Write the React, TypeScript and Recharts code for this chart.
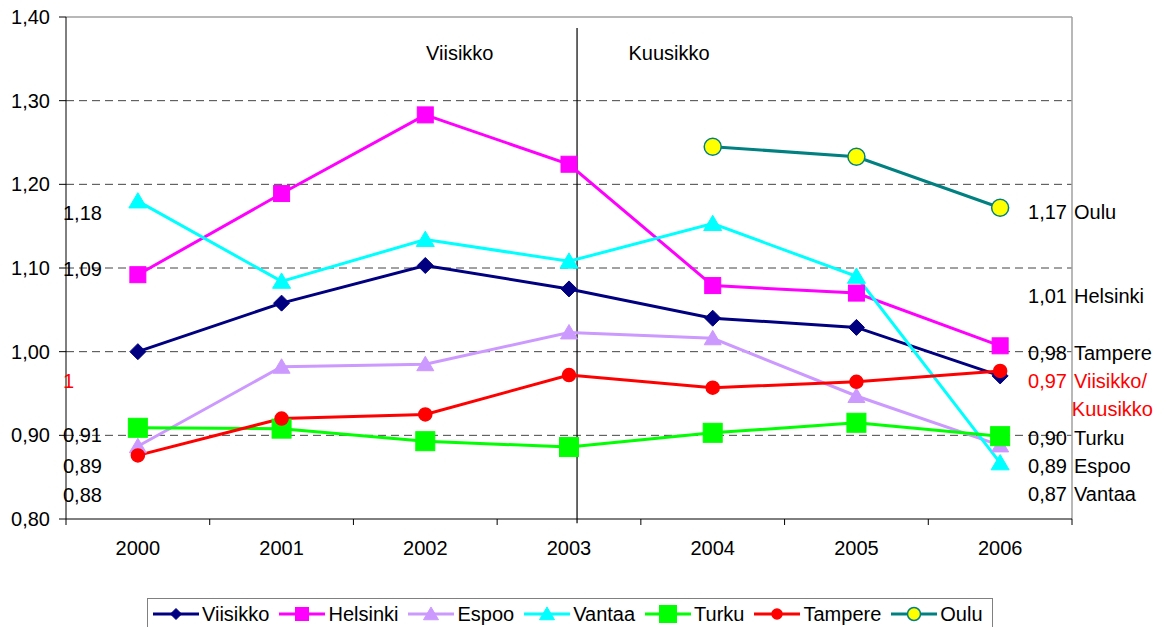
import React from 'react';
import {
  LineChart,
  Line,
  XAxis,
  YAxis,
  ReferenceLine,
  ReferenceDot,
  Legend,
} from 'recharts';

const FONT = "'Liberation Sans', Arial, Helvetica, sans-serif";

// ---------- data ----------
const years = ['2000', '2001', '2002', '2003', '2004', '2005', '2006'];
const viisikko = [1.0, 1.058, 1.103, 1.075, 1.04, 1.029, 0.971];
const helsinki = [1.092, 1.189, 1.283, 1.224, 1.079, 1.07, 1.007];
const espoo = [0.887, 0.982, 0.985, 1.023, 1.016, 0.947, 0.888];
const vantaa = [1.18, 1.084, 1.134, 1.108, 1.153, 1.09, 0.867];
const turku = [0.909, 0.908, 0.893, 0.886, 0.903, 0.915, 0.899];
const tampere = [0.876, 0.92, 0.925, 0.972, 0.957, 0.964, 0.977];
const oulu: (number | null)[] = [null, null, null, null, 1.245, 1.233, 1.172];

const yTicks = [0.8, 0.9, 1.0, 1.1, 1.2, 1.3, 1.4];
const gridValues = [0.9, 1.0, 1.1, 1.2, 1.3];

const leftLabels = [
  { text: '1,18', y: 1.166, color: '#000000' },
  { text: '1,09', y: 1.099, color: '#000000' },
  { text: '1', y: 0.965, color: '#FF0000' },
  { text: '0,91', y: 0.9, color: '#000000' },
  { text: '0,89', y: 0.863, color: '#000000' },
  { text: '0,88', y: 0.829, color: '#000000' },
];

const rightLabels = [
  { value: '1,17', name: 'Oulu', y: 1.167, color: '#000000' },
  { value: '1,01', name: 'Helsinki', y: 1.066, color: '#000000' },
  { value: '0,98', name: 'Tampere', y: 0.999, color: '#000000' },
  { value: '0,97', name: 'Viisikko/', y: 0.965, color: '#FF0000' },
  { value: '', name: 'Kuusikko', y: 0.931, color: '#FF0000' },
  { value: '0,90', name: 'Turku', y: 0.897, color: '#000000' },
  { value: '0,89', name: 'Espoo', y: 0.863, color: '#000000' },
  { value: '0,87', name: 'Vantaa', y: 0.83, color: '#000000' },
];

const periodLabels = [
  { text: 'Viisikko', x: 2.24, y: 1.357 },
  { text: 'Kuusikko', x: 3.696, y: 1.357 },
];
const dividerX = 3.056;
const dividerTop = 1.387;

const seriesValues: Record<string, (number | null)[]> = {
  Viisikko: viisikko,
  Helsinki: helsinki,
  Espoo: espoo,
  Vantaa: vantaa,
  Turku: turku,
  Tampere: tampere,
  Oulu: oulu,
};

type Kind = 'diamond' | 'square' | 'triangle' | 'circle';
interface SeriesStyle {
  key: string;
  color: string;
  kind: Kind;
  size: number;
  legendSize: number;
  fill: string;
  stroke: string;
}

const seriesStyles: SeriesStyle[] = [
  { key: 'Viisikko', color: '#000080', kind: 'diamond', size: 8, legendSize: 5.5, fill: '#000080', stroke: '#000080' },
  { key: 'Helsinki', color: '#FF00FF', kind: 'square', size: 8, legendSize: 6.5, fill: '#FF00FF', stroke: '#FF00FF' },
  { key: 'Espoo', color: '#CC99FF', kind: 'triangle', size: 8.5, legendSize: 7.5, fill: '#CC99FF', stroke: '#CC99FF' },
  { key: 'Vantaa', color: '#00FFFF', kind: 'triangle', size: 9, legendSize: 7.5, fill: '#00FFFF', stroke: '#00FFFF' },
  { key: 'Turku', color: '#00FF00', kind: 'square', size: 9.5, legendSize: 8.5, fill: '#00FF00', stroke: '#00FF00' },
  { key: 'Tampere', color: '#FF0000', kind: 'circle', size: 6.5, legendSize: 5, fill: '#FF0000', stroke: '#FF0000' },
  { key: 'Oulu', color: '#008080', kind: 'circle', size: 8.5, legendSize: 6.5, fill: '#FFFF00', stroke: '#008080' },
];

const data = years.map((year, i) => {
  const row: Record<string, any> = { i, year };
  Object.keys(seriesValues).forEach((k) => {
    row[k] = seriesValues[k][i];
  });
  return row;
});

const xTicks: number[] = [];
years.forEach((_, i) => {
  xTicks.push(i - 0.5);
  xTicks.push(i);
});
xTicks.push(years.length - 0.5);

// ---------- marks ----------
function Marker({ kind, cx, cy, size, fill, stroke }: { kind: Kind; cx: number; cy: number; size: number; fill: string; stroke: string }) {
  if (kind === 'diamond') {
    const s = size;
    return <polygon points={`${cx},${cy - s} ${cx + s},${cy} ${cx},${cy + s} ${cx - s},${cy}`} fill={fill} stroke={stroke} strokeWidth={1} />;
  }
  if (kind === 'square') {
    return <rect x={cx - size} y={cy - size} width={size * 2} height={size * 2} fill={fill} stroke={stroke} strokeWidth={1} />;
  }
  if (kind === 'triangle') {
    const w = size;
    const h = size * 1.7;
    return (
      <polygon
        points={`${cx},${cy - h * 0.55} ${cx + w},${cy + h * 0.45} ${cx - w},${cy + h * 0.45}`}
        fill={fill}
        stroke={stroke}
        strokeWidth={1}
      />
    );
  }
  return <circle cx={cx} cy={cy} r={size} fill={fill} stroke={stroke} strokeWidth={1.5} />;
}

const makeDot = (s: SeriesStyle) => (props: any) => {
  const { cx, cy, index, value } = props;
  const k = `${s.key}-dot-${index}`;
  if (value == null || cx == null || cy == null || Number.isNaN(cy)) return <g key={k} />;
  return (
    <g key={k}>
      <Marker kind={s.kind} cx={cx} cy={cy} size={s.size} fill={s.fill} stroke={s.stroke} />
    </g>
  );
};

const XTick = (props: any) => {
  const { x, y, payload } = props;
  const v = payload.value as number;
  if (Number.isInteger(v)) {
    return (
      <text x={x} y={y + 22} dy="0.71em" textAnchor="middle" fill="#000" fontSize={20} fontFamily={FONT}>
        {years[v]}
      </text>
    );
  }
  return <line x1={x} x2={x} y1={y} y2={y + 6} stroke="#000" strokeWidth={1} />;
};

const centerOf = (p: any) => {
  const vb = p.viewBox || {};
  return { cx: (vb.x || 0) + (vb.width || 0) / 2, cy: (vb.y || 0) + (vb.height || 0) / 2 };
};

const renderLegend = (props: any) => {
  const payload = props.payload || [];
  const names = seriesStyles
    .map((s) => s.key)
    .filter((k) => payload.some((e: any) => e.value === k));
  return (
    <div
      style={{
        boxSizing: 'border-box',
        height: 32,
        border: '1px solid #808080',
        background: '#ffffff',
        display: 'flex',
        alignItems: 'center',
        paddingLeft: 5,
        fontFamily: FONT,
        fontSize: 20,
        color: '#000',
        whiteSpace: 'nowrap',
      }}
    >
      {names.map((name) => {
        const s = seriesStyles.find((st) => st.key === name) as SeriesStyle;
        return (
          <div key={name} style={{ display: 'flex', alignItems: 'center', marginRight: 10 }}>
            <svg width={46} height={20} style={{ display: 'block' }}>
              <line x1={0} x2={46} y1={10} y2={10} stroke={s.color} strokeWidth={3} />
              <Marker kind={s.kind} cx={23} cy={10} size={s.legendSize} fill={s.fill} stroke={s.stroke} />
            </svg>
            <span style={{ marginLeft: 3 }}>{name}</span>
          </div>
        );
      })}
    </div>
  );
};

export default function App() {
  return (
    <div style={{ position: 'fixed', left: 0, top: 0, width: 1167, height: 627, background: '#fff', overflow: 'hidden' }}>
      <LineChart width={1167} height={627} data={data} margin={{ top: 17, right: 95, left: 0, bottom: 0 }}>
        <XAxis
          dataKey="i"
          type="number"
          domain={[-0.5, 6.5]}
          ticks={xTicks}
          interval={0}
          tick={<XTick />}
          tickLine={false}
          tickSize={0}
          tickMargin={0}
          axisLine={{ stroke: '#000', strokeWidth: 1 }}
          height={76}
        />
        <YAxis
          type="number"
          domain={[0.8, 1.4]}
          ticks={yTicks}
          interval={0}
          width={66}
          tickSize={7}
          tickMargin={9}
          tickFormatter={(v: number) => v.toFixed(2).replace('.', ',')}
          tick={{ fill: '#000', fontSize: 20, fontFamily: FONT }}
          axisLine={{ stroke: '#000', strokeWidth: 1 }}
          tickLine={{ stroke: '#000', strokeWidth: 1 }}
        />
        {gridValues.map((v) => (
          <ReferenceLine key={`g${v}`} y={v} stroke="#444" strokeDasharray="8 5" strokeWidth={1} />
        ))}
        <ReferenceLine y={1.4} stroke="#a0a0a0" strokeWidth={1.5} />
        <ReferenceLine x={6.5} stroke="#a0a0a0" strokeWidth={1.5} />
        <ReferenceLine
          segment={[
            { x: dividerX, y: 0.795 },
            { x: dividerX, y: dividerTop },
          ]}
          stroke="#000"
          strokeWidth={1.2}
          ifOverflow="visible"
        />
        {seriesStyles.map((s) => (
          <Line
            key={s.key}
            name={s.key}
            dataKey={s.key}
            type="linear"
            stroke={s.color}
            strokeWidth={3}
            dot={makeDot(s)}
            activeDot={false}
            isAnimationActive={false}
            connectNulls={false}
          />
        ))}
        {periodLabels.map((l) => (
          <ReferenceDot
            key={l.text}
            x={l.x}
            y={l.y}
            r={0}
            fill="none"
            stroke="none"
            ifOverflow="visible"
            label={(p: any) => {
              const { cx, cy } = centerOf(p);
              return (
                <text x={cx} y={cy} dy="0.35em" textAnchor="middle" fill="#000" fontSize={20} fontFamily={FONT}>
                  {l.text}
                </text>
              );
            }}
          />
        ))}
        {leftLabels.map((l) => (
          <ReferenceDot
            key={`l${l.text}`}
            x={-0.5}
            y={l.y}
            r={0}
            fill="none"
            stroke="none"
            ifOverflow="visible"
            label={(p: any) => {
              const { cx, cy } = centerOf(p);
              return (
                <text x={cx - 3} y={cy} dy="0.35em" textAnchor="start" fill={l.color} fontSize={20} fontFamily={FONT}>
                  {l.text}
                </text>
              );
            }}
          />
        ))}
        {rightLabels.map((l) => (
          <ReferenceDot
            key={`r${l.name}`}
            x={6.5}
            y={l.y}
            r={0}
            fill="none"
            stroke="none"
            ifOverflow="visible"
            label={(p: any) => {
              const { cx, cy } = centerOf(p);
              if (!l.value) {
                return (
                  <text x={cx + 81} y={cy} dy="0.35em" textAnchor="end" fill={l.color} fontSize={20} fontFamily={FONT}>
                    {l.name}
                  </text>
                );
              }
              return (
                <g>
                  <text x={cx - 5} y={cy} dy="0.35em" textAnchor="end" fill={l.color} fontSize={20} fontFamily={FONT}>
                    {l.value}
                  </text>
                  <text x={cx + 2} y={cy} dy="0.35em" textAnchor="start" fill={l.color} fontSize={20} fontFamily={FONT}>
                    {l.name}
                  </text>
                </g>
              );
            }}
          />
        ))}
        <Legend
          verticalAlign="bottom"
          align="left"
          content={renderLegend}
          wrapperStyle={{ left: 147, width: 846, bottom: -3 }}
        />
      </LineChart>
    </div>
  );
}
